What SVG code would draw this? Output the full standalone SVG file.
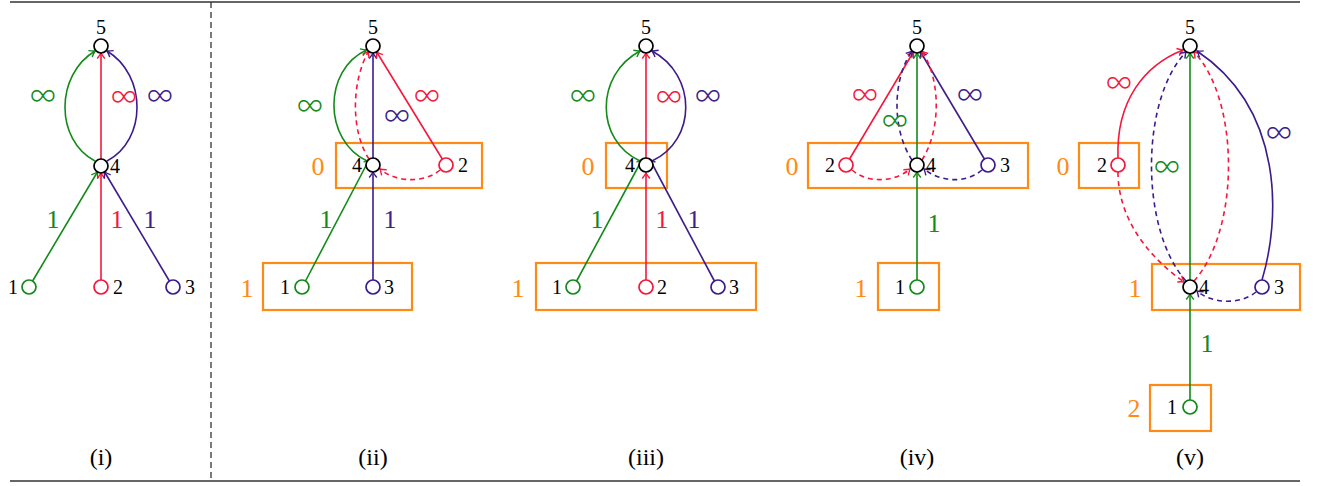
<svg xmlns="http://www.w3.org/2000/svg" width="1318" height="486" viewBox="0 0 1318 486">
<style>
text{font-family:"Liberation Serif","Times New Roman",serif;}
.nl{font-size:20px;fill:#000;}
.c{text-anchor:middle;}
.e{text-anchor:end;}
.lv{font-size:26px;fill:#ff8a14;text-anchor:middle;}
.w{font-size:26px;text-anchor:middle;}
.inf{font-family:Lato,Inter,"DejaVu Sans",sans-serif;font-weight:300;font-size:38px;text-anchor:middle;}
.cap{font-size:24px;fill:#000;text-anchor:middle;}
.nk circle{fill:#fff;stroke:#000;stroke-width:1.7;}
.ng circle{fill:#fff;stroke:#138a1a;stroke-width:1.7;}
.nr circle{fill:#fff;stroke:#f5173c;stroke-width:1.7;}
.np circle{fill:#fff;stroke:#3c1c8c;stroke-width:1.7;}
.box{fill:none;stroke:#ff8a14;stroke-width:2.2;}
.g{fill:none;stroke:#138a1a;stroke-width:1.6;marker-end:url(#aG);}
.r{fill:none;stroke:#f5173c;stroke-width:1.6;marker-end:url(#aR);}
.p{fill:none;stroke:#3c1c8c;stroke-width:1.6;marker-end:url(#aP);}
.d{stroke-dasharray:5 4;}
.tg{fill:#138a1a;} .tr{fill:#f5173c;} .tp{fill:#3c1c8c;}
.rule{stroke:#333;stroke-width:1.3;fill:none;}
</style>
<defs>
<marker id="aG" markerUnits="userSpaceOnUse" markerWidth="12" markerHeight="12" viewBox="-7 -6 8 12" refX="0" refY="0" orient="auto"><path d="M-5.5 -3.8 Q-2 -1 0 0 Q-2 1 -5.5 3.8" fill="none" stroke="#138a1a" stroke-width="1.4"/></marker>
<marker id="aR" markerUnits="userSpaceOnUse" markerWidth="12" markerHeight="12" viewBox="-7 -6 8 12" refX="0" refY="0" orient="auto"><path d="M-5.5 -3.8 Q-2 -1 0 0 Q-2 1 -5.5 3.8" fill="none" stroke="#f5173c" stroke-width="1.4"/></marker>
<marker id="aP" markerUnits="userSpaceOnUse" markerWidth="12" markerHeight="12" viewBox="-7 -6 8 12" refX="0" refY="0" orient="auto"><path d="M-5.5 -3.8 Q-2 -1 0 0 Q-2 1 -5.5 3.8" fill="none" stroke="#3c1c8c" stroke-width="1.4"/></marker>
</defs>

<g id="frame">
<line class="rule" x1="10" y1="2" x2="1300" y2="2"/>
<line class="rule" x1="10" y1="481" x2="1300" y2="481"/>
<line class="rule" x1="211" y1="2" x2="211" y2="481" stroke-dasharray="6 4"/>
</g>

<g id="levels">
<rect class="box" x="336" y="143" width="146" height="45"/>
<rect class="box" x="263" y="263" width="149" height="47"/>
<text class="lv" x="318" y="175">0</text>
<text class="lv" x="247" y="297">1</text>
<rect class="box" x="606" y="143" width="61" height="45"/>
<rect class="box" x="536" y="263" width="220" height="47"/>
<text class="lv" x="588" y="175">0</text>
<text class="lv" x="518" y="297">1</text>
<rect class="box" x="808" y="143" width="220" height="45"/>
<rect class="box" x="878" y="263" width="61" height="47"/>
<text class="lv" x="792" y="175">0</text>
<text class="lv" x="861" y="297">1</text>
<rect class="box" x="1079" y="143" width="60" height="45"/>
<rect class="box" x="1152" y="264" width="148" height="46"/>
<rect class="box" x="1150" y="385" width="61" height="46"/>
<text class="lv" x="1063" y="175">0</text>
<text class="lv" x="1135" y="297">1</text>
<text class="lv" x="1134" y="417">2</text>
</g>

<g id="connectors">
<!-- (i) -->
<path class="g" d="M32.6 281 L97.4 172"/>
<path class="r" d="M101 280 L101 173"/>
<path class="p" d="M169.4 281 L104.6 172"/>
<path class="r" d="M101 159 L101 53"/>
<path class="g" d="M95 161 C55 140 55 75 95 51"/>
<path class="p" d="M107 161 C147 140 147 75 107 51"/>
<!-- (ii) -->
<path class="g" d="M305.5 281 L369.5 159"/>
<path class="p" d="M373 280 L373 172"/>
<path class="p" d="M373 158 L373 53"/>
<path class="g" d="M367 161 C323 140 323 70 366.5 50"/>
<path class="r d" d="M369 159 C350 130 352 80 368.5 51.5"/>
<path class="r" d="M442.3 159 L376.7 52"/>
<path class="r d" d="M440 170 C425 183 396 183 380 169"/>
<!-- (iii) -->
<path class="g" d="M576.6 281 L642.4 159"/>
<path class="r" d="M646 280 L646 173"/>
<path class="p" d="M714.4 281 L649.6 159"/>
<path class="r" d="M646 159 L646 53"/>
<path class="g" d="M640 161 C595 140 595 75 640 51"/>
<path class="p" d="M652 161 C697 140 697 75 652 51"/>
<!-- (iv) -->
<path class="r" d="M849.6 159 L913.4 52"/>
<path class="p" d="M984.4 159 L920.6 52"/>
<path class="g" d="M917 158 L917 53"/>
<path class="g" d="M917 280 L917 172"/>
<path class="p d" d="M912 160 C892 130 892 80 912 51"/>
<path class="r d" d="M922 160 C941 130 941 80 922 51"/>
<path class="r d" d="M852 170 C868 184 895 182 910 169"/>
<path class="p d" d="M982 170 C966 184 940 182 924 169"/>
<!-- (v) -->
<path class="g" d="M1190 400 L1190 294"/>
<path class="g" d="M1190 280 L1190 53"/>
<path class="r" d="M1118 158 C1116 100 1145 65 1183 50"/>
<path class="r d" d="M1118 172 C1118 220 1150 258 1184 282"/>
<path class="p d" d="M1186 281 C1140 230 1140 100 1186 52"/>
<path class="r d" d="M1194 281 C1240 230 1240 100 1194 52"/>
<path class="p" d="M1262 280 C1280 220 1285 110 1197 51"/>
<path class="p d" d="M1256 292 C1240 305 1212 304 1197 291"/>
</g>

<g id="edge-labels">
<text class="inf tg" x="43" y="107">∞</text>
<text class="inf tr" x="124" y="108">∞</text>
<text class="inf tp" x="160" y="107">∞</text>
<text class="w tg" x="53" y="228">1</text>
<text class="w tr" x="117" y="228">1</text>
<text class="w tp" x="150" y="228">1</text>

<text class="inf tg" x="310" y="117">∞</text>
<text class="inf tr" x="427" y="107">∞</text>
<text class="inf tp" x="397" y="127">∞</text>
<text class="w tg" x="326" y="228">1</text>
<text class="w tp" x="390" y="228">1</text>

<text class="inf tg" x="583" y="107">∞</text>
<text class="inf tr" x="669" y="108">∞</text>
<text class="inf tp" x="708" y="107">∞</text>
<text class="w tg" x="597" y="228">1</text>
<text class="w tr" x="662" y="228">1</text>
<text class="w tp" x="694" y="228">1</text>

<text class="inf tr" x="865" y="106">∞</text>
<text class="inf tg" x="895" y="132">∞</text>
<text class="inf tp" x="970" y="106">∞</text>
<text class="w tg" x="934" y="232">1</text>

<text class="inf tr" x="1119" y="94">∞</text>
<text class="inf tp" x="1279" y="144">∞</text>
<text class="inf tg" x="1167" y="178">∞</text>
<text class="w tg" x="1207" y="352">1</text>
</g>

<!-- panel (i) nodes -->
<g id="i-n5" class="nk"><circle cx="101" cy="46" r="7"/><text class="nl c" x="101" y="34">5</text></g>
<g id="i-n4" class="nk"><circle cx="101" cy="166" r="7"/><text class="nl" x="110" y="173">4</text></g>
<g id="i-n1" class="ng"><circle cx="29" cy="287" r="7"/><text class="nl e" x="18" y="294">1</text></g>
<g id="i-n2" class="nr"><circle cx="101" cy="287" r="7"/><text class="nl" x="113" y="294">2</text></g>
<g id="i-n3" class="np"><circle cx="173" cy="287" r="7"/><text class="nl" x="185" y="294">3</text></g>

<!-- panel (ii) nodes -->
<g id="ii-n5" class="nk"><circle cx="373" cy="46" r="7"/><text class="nl c" x="373" y="34">5</text></g>
<g id="ii-n4" class="nk"><circle cx="373" cy="165" r="7"/><text class="nl e" x="362" y="172">4</text></g>
<g id="ii-n2" class="nr"><circle cx="446" cy="165" r="7"/><text class="nl" x="458" y="172">2</text></g>
<g id="ii-n1" class="ng"><circle cx="302" cy="287" r="7"/><text class="nl e" x="290" y="294">1</text></g>
<g id="ii-n3" class="np"><circle cx="373" cy="287" r="7"/><text class="nl" x="384" y="294">3</text></g>

<!-- panel (iii) nodes -->
<g id="iii-n5" class="nk"><circle cx="646" cy="46" r="7"/><text class="nl c" x="646" y="34">5</text></g>
<g id="iii-n4" class="nk"><circle cx="646" cy="165" r="7"/><text class="nl e" x="635" y="172">4</text></g>
<g id="iii-n1" class="ng"><circle cx="573" cy="287" r="7"/><text class="nl e" x="562" y="294">1</text></g>
<g id="iii-n2" class="nr"><circle cx="646" cy="287" r="7"/><text class="nl" x="657" y="294">2</text></g>
<g id="iii-n3" class="np"><circle cx="718" cy="287" r="7"/><text class="nl" x="729" y="294">3</text></g>

<!-- panel (iv) nodes -->
<g id="iv-n5" class="nk"><circle cx="917" cy="46" r="7"/><text class="nl c" x="917" y="34">5</text></g>
<g id="iv-n4" class="nk"><circle cx="917" cy="165" r="7"/><text class="nl" x="926" y="172">4</text></g>
<g id="iv-n2" class="nr"><circle cx="846" cy="165" r="7"/><text class="nl e" x="835" y="172">2</text></g>
<g id="iv-n3" class="np"><circle cx="988" cy="165" r="7"/><text class="nl" x="1000" y="172">3</text></g>
<g id="iv-n1" class="ng"><circle cx="917" cy="287" r="7"/><text class="nl e" x="905" y="294">1</text></g>

<!-- panel (v) nodes -->
<g id="v-n5" class="nk"><circle cx="1190" cy="46" r="7"/><text class="nl c" x="1190" y="34">5</text></g>
<g id="v-n2" class="nr"><circle cx="1118" cy="165" r="7"/><text class="nl e" x="1107" y="172">2</text></g>
<g id="v-n4" class="nk"><circle cx="1190" cy="287" r="7"/><text class="nl" x="1199" y="294">4</text></g>
<g id="v-n3" class="np"><circle cx="1262" cy="287" r="7"/><text class="nl" x="1274" y="294">3</text></g>
<g id="v-n1" class="ng"><circle cx="1190" cy="407" r="7"/><text class="nl e" x="1177" y="414">1</text></g>

<g id="captions">
<text class="cap" x="101" y="465">(i)</text>
<text class="cap" x="373" y="465">(ii)</text>
<text class="cap" x="646" y="465">(iii)</text>
<text class="cap" x="917" y="465">(iv)</text>
<text class="cap" x="1190" y="465">(v)</text>
</g>
</svg>
